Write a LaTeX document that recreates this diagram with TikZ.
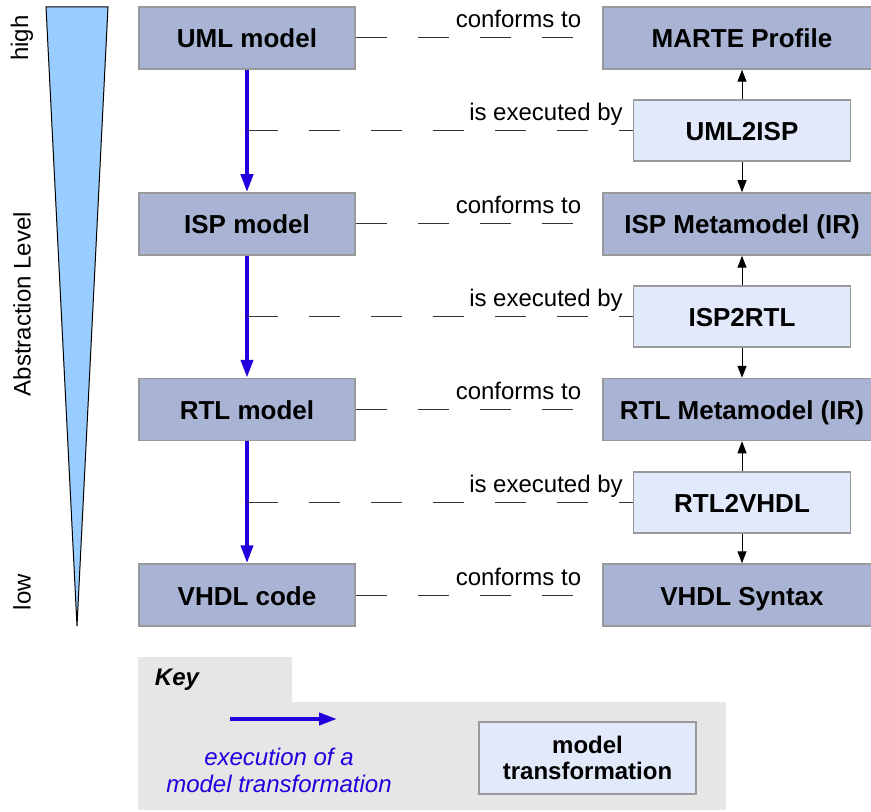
\documentclass[tikz,border=0pt]{standalone}
\usepackage{fontspec}
\setmainfont{Liberation Sans}
\usetikzlibrary{arrows.meta}

\definecolor{modelfill}{RGB}{169,180,212}
\definecolor{transfill}{RGB}{225,233,251}
\definecolor{boxedge}{RGB}{153,153,153}
\definecolor{execblue}{RGB}{34,0,221}
\definecolor{levelblue}{RGB}{153,204,255}
\definecolor{keyfill}{RGB}{230,230,230}

\tikzset{
  modelbox/.style={draw=boxedge, line width=0.75pt, fill=modelfill, minimum height=31pt,
    inner sep=0pt, font=\fontsize{13}{15}\selectfont\bfseries},
  oneline/.style={text height=11pt, text depth=1pt},
  leftbox/.style={modelbox, oneline, minimum width=108pt},
  rightbox/.style={modelbox, oneline, minimum width=139pt},
  transbox/.style={modelbox, fill=transfill, minimum width=108.5pt, minimum height=30.5pt},
  execarrow/.style={draw=execblue, line width=2pt, -{Triangle[length=9pt,width=6pt]}},
  refarrow/.style={line width=0.5pt, -{Triangle[length=6pt,width=4.5pt]}},
  relline/.style={black!80, line width=0.5pt, dash pattern=on 15.5pt off 15.5pt},
  rellabel/.style={anchor=base, yshift=5pt, text=black, font=\fontsize{12}{14}\selectfont},
  sidelabel/.style={rotate=90, font=\fontsize{12}{14}\selectfont},
}

\begin{document}
\begin{tikzpicture}[x=0.5pt, y=-0.5pt]
  \useasboundingbox (0,0) rectangle (871,812);

  % Parameters definitions
  \def\xleft{247}  % X centre of the models
  \def\xright{742} % X centre of the metamodels
  \def\xtrans{742} % X centre of the transformations

  % Abstraction level
  \filldraw[fill=levelblue, draw=black, line width=0.5pt] (46,7) -- (108,7) -- (77,626) -- cycle;
  \node[sidelabel] (high) at (22,38) {high};
  \node[sidelabel] (level) at (22,304) {Abstraction Level};
  \node[sidelabel] (low) at (22,592) {low};

  % Models
  \node[leftbox] (uml) at (\xleft,38) {UML model};
  \node[leftbox] (isp) at (\xleft,224) {ISP model};
  \node[leftbox] (rtl) at (\xleft,409.5) {RTL model};
  \node[leftbox] (vhdl) at (\xleft,595) {VHDL code};

  % Metamodels
  \node[rightbox] (marte) at (\xright,38) {MARTE Profile};
  \node[rightbox] (ispmm) at (\xright,224) {ISP Metamodel (IR)};
  \node[rightbox] (rtlmm) at (\xright,409.5) {RTL Metamodel (IR)};
  \node[rightbox] (vhdlsyn) at (\xright,595) {VHDL Syntax};

  % Transformations
  \node[transbox, oneline] (uml2isp) at (\xtrans,130.5) {UML2ISP};
  \node[transbox, oneline] (isp2rtl) at (\xtrans,316.5) {ISP2RTL};
  \node[transbox, oneline] (rtl2vhdl) at (\xtrans,502.5) {RTL2VHDL};

  % Executions
  \draw[execarrow] (uml) -- (isp);
  \draw[execarrow] (isp) -- (rtl);
  \draw[execarrow] (rtl) -- (vhdl);

  % Conformance
  \draw[relline] (uml) -- (marte) node[rellabel, pos=0.66] {conforms to};
  \draw[relline] (isp) -- (ispmm) node[rellabel, pos=0.66] {conforms to};
  \draw[relline] (rtl) -- (rtlmm) node[rellabel, pos=0.66] {conforms to};
  \draw[relline] (vhdl) -- (vhdlsyn) node[rellabel, pos=0.66] {conforms to};

  \draw[relline] (uml.south |- uml2isp) -- (uml2isp) node[rellabel, pos=0.775] {is executed by};
  \draw[relline] (isp.south |- isp2rtl) -- (isp2rtl) node[rellabel, pos=0.775] {is executed by};
  \draw[relline] (rtl.south |- rtl2vhdl) -- (rtl2vhdl) node[rellabel, pos=0.775] {is executed by};

  % Source and target of the transformations
  \draw[refarrow] (uml2isp.north) -- (uml2isp.north |- marte.south);
  \draw[refarrow] (uml2isp.south) -- (uml2isp.south |- ispmm.north);
  \draw[refarrow] (isp2rtl.north) -- (isp2rtl.north |- ispmm.south);
  \draw[refarrow] (isp2rtl.south) -- (isp2rtl.south |- rtlmm.north);
  \draw[refarrow] (rtl2vhdl.north) -- (rtl2vhdl.north |- rtlmm.south);
  \draw[refarrow] (rtl2vhdl.south) -- (rtl2vhdl.south |- vhdlsyn.north);

  % Key
  \begin{scope}
    \fill[keyfill] (138,657) rectangle (292,703);
    \fill[keyfill] (138,702) rectangle (726,810);
    \node[font=\fontsize{12}{14}\selectfont\bfseries\itshape] (key) at (177,680) {Key};

    \coordinate (keyfrom) at (230,719);
    \coordinate (keyto) at (337,719);
    \draw[execarrow] (keyfrom) -- (keyto);
    \node[align=center, text=execblue, font=\fontsize{12}{13.5}\selectfont\itshape] (keyexec) at (279,770)
      {execution of a\\model transformation};

    \node[transbox, minimum height=36pt, align=center, font=\fontsize{12}{13}\selectfont\bfseries] (keytrans) at (587.5,758)
      {model\\transformation};
  \end{scope}
  % Key END
\end{tikzpicture}
\end{document}
